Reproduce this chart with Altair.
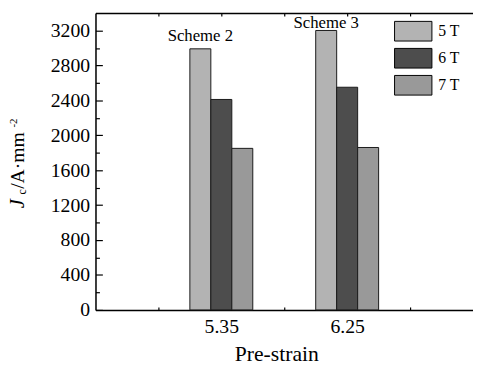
import altair as alt
import pandas as pd

# ---- data ----
prestrain = ["5.35", "6.25"]
positions = [1, 2]
fields = ["5 T", "6 T", "7 T"]
jc_5T = [2990, 3200]
jc_6T = [2410, 2550]
jc_7T = [1850, 1860]
schemes = ["Scheme 2", "Scheme 3"]
scheme_y = [3140, 3285]
colors = ["#b3b3b3", "#4d4d4d", "#999999"]
y_major = list(range(0, 3201, 400))
y_minor = list(range(200, 3400, 400))
x_ticks = [0.5, 1, 1.5, 2, 2.5]

FONT = "Liberation Serif, Times New Roman, Times, serif"
W, H = 384, 302

rows = []
for i, (f, vals) in enumerate(zip(fields, [jc_5T, jc_6T, jc_7T])):
    for p, lab, v in zip(positions, prestrain, vals):
        rows.append(dict(field=f, idx=i, pos=p, label=lab, jc=v))
df = pd.DataFrame(rows)
ann = pd.DataFrame({"text": schemes, "pos": positions, "y": scheme_y})

xs = alt.Scale(domain=[0, 3], nice=False, zero=False)
ys = alt.Scale(domain=[0, 3400], nice=False)

label_expr = "[''," + ",".join("'%s'" % s for s in prestrain) + "][datum.value]"

bars = alt.Chart(df).transform_calculate(
    x0="datum.pos - 0.25 + datum.idx/6",
    x1="datum.pos - 0.25 + (datum.idx+1)/6",
).mark_bar(stroke="#1a1a1a", strokeWidth=1, opacity=1).encode(
    x=alt.X("x0:Q", scale=xs, axis=alt.Axis(
        orient="bottom", values=positions, labelExpr=label_expr, ticks=False,
        grid=False, domainColor="black", domainWidth=1.5, labelFontSize=20,
        labelPadding=7, labelColor="black", title=None, labelFont=FONT)),
    x2="x1:Q",
    y=alt.Y("jc:Q", scale=ys, axis=alt.Axis(
        orient="left", values=y_major, format="d", ticks=False, grid=False,
        domainColor="black", domainWidth=1.5, labelFontSize=20, labelPadding=6,
        labelColor="black", title=None, labelFont=FONT)),
    y2=alt.datum(0),
    color=alt.Color("field:N", scale=alt.Scale(domain=fields, range=colors),
                    legend=alt.Legend(
                        orient="none", legendX=312.7, legendY=8, title=None,
                        symbolType="M-1.9,-1H1.9V1H-1.9Z", symbolSize=400,
                        symbolStrokeColor="black", symbolStrokeWidth=1,
                        symbolOpacity=1, labelFontSize=16, labelFont=FONT,
                        labelColor="black", labelOffset=15, rowPadding=2.5,
                        padding=0)),
)

ticks1 = alt.Chart(df).mark_point(opacity=0).encode(
    x=alt.X("pos:Q", scale=xs, axis=alt.Axis(
        orient="top", offset=-H, values=x_ticks, tickSize=3, tickColor="black",
        tickWidth=1.2, labels=False, domain=False, grid=False, title=None)),
    y=alt.Y("jc:Q", scale=ys, axis=alt.Axis(
        orient="right", offset=-W, values=y_major, tickSize=7, tickColor="black",
        tickWidth=1.2, labels=False, domain=False, grid=False, title=None)),
)

ticks2 = alt.Chart(df).mark_point(opacity=0).encode(
    x=alt.X("pos:Q", scale=xs, axis=alt.Axis(
        orient="bottom", offset=-H, values=x_ticks, tickSize=3, tickColor="black",
        tickWidth=1.2, labels=False, domain=True, domainColor="black",
        domainWidth=1.5, grid=False, title=None)),
    y=alt.Y("jc:Q", scale=ys, axis=alt.Axis(
        orient="right", offset=-W, values=y_minor, tickSize=4, tickColor="black",
        tickWidth=1.2, labels=False, domain=False, grid=False, title=None)),
)

schemes_txt = alt.Chart(ann).transform_calculate(
    xc="datum.pos - 0.25 + 1/12"
).mark_text(font=FONT, fontSize=17, baseline="middle", color="black").encode(
    x=alt.X("xc:Q", scale=xs, axis=None),
    y=alt.Y("y:Q", scale=ys, axis=None),
    text="text:N")


def label(text, x, y, size, angle=0, style="normal", baseline="alphabetic"):
    return alt.Chart(pd.DataFrame({"t": [text]})).mark_text(
        font=FONT, fontSize=size, angle=angle, fontStyle=style,
        baseline=baseline, align="center", color="black").encode(
        x=alt.value(x), y=alt.value(y), text="t:N")


title_parts = ["J", "c", " /A·mm", "-2"]
ytitle = [
    label(title_parts[0], -72.5, 194, 21, angle=270, style="italic"),
    label(title_parts[1], -71, 182, 12, angle=270),
    label(title_parts[2], -72.3, 150, 20, angle=270),
    label(title_parts[3], -80, 112, 11, angle=270),
]
xtitle = label("Pre-strain", 184.4, 354, 22)

chart = alt.layer(bars, ticks1, ticks2, schemes_txt, xtitle, *ytitle).resolve_axis(
    x="independent", y="independent"
).properties(
    width=W, height=H,
    autosize=alt.AutoSizeParams(type="none"),
    padding={"left": 89, "top": 2, "right": 0, "bottom": 57},
).configure_view(stroke=None).configure(font=FONT).configure_axis(
    labelFont=FONT, labelColor="black"
).configure_legend(labelFont=FONT)

chart.save("out.html", embed_options={"renderer": "svg", "actions": False})
